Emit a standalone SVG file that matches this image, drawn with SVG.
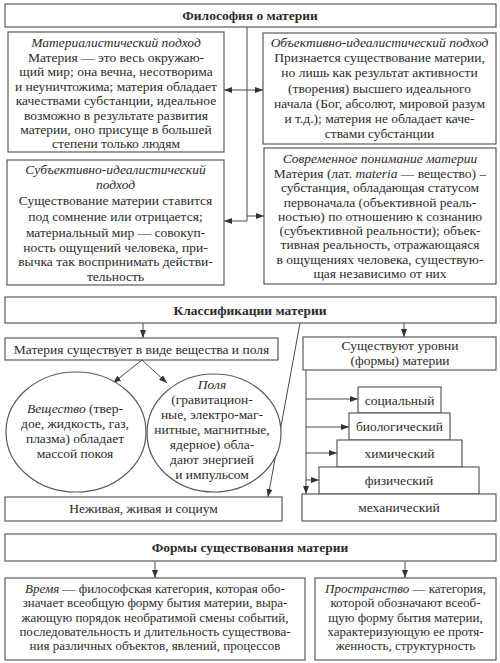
<svg xmlns="http://www.w3.org/2000/svg" width="500" height="663" viewBox="0 0 500 663">
<defs>
<style>
.bx{fill:#fff;stroke:#5a5a5a;stroke-width:1.2}
.ln{fill:none;stroke:#4a4a4a;stroke-width:1}
text{font-family:"Liberation Serif","Times New Roman",serif;font-size:13.5px;fill:#2b2b2b;text-anchor:middle}
.t{font-weight:bold;font-size:13.5px}
.i{font-style:italic}
.s{font-size:13px}
</style>
<marker id="ah" viewBox="0 0 8 6" refX="8" refY="3" markerWidth="8" markerHeight="6" markerUnits="userSpaceOnUse" orient="auto">
<path d="M0,0 L8,3 L0,6 Z" fill="#333"/>
</marker>
</defs>
<rect width="500" height="663" fill="#fff"/>

<g id="connectors">
<path class="ln" d="M247,27 V221"/>
<path class="ln" d="M247,90 H224" marker-end="url(#ah)"/>
<path class="ln" d="M247,90 H263" marker-end="url(#ah)"/>
<path class="ln" d="M247,221 H224" marker-end="url(#ah)"/>
<path class="ln" d="M247,216 H264" marker-end="url(#ah)"/>
<path class="ln" d="M143,323 V338" marker-end="url(#ah)"/>
<path class="ln" d="M404,323 V337" marker-end="url(#ah)"/>
<path class="ln" d="M142,360 L113,383" marker-end="url(#ah)"/>
<path class="ln" d="M142,360 L167,383" marker-end="url(#ah)"/>
<path class="ln" d="M300,323 L268,497" marker-end="url(#ah)"/>
<path class="ln" d="M306,370 V494" marker-end="url(#ah)"/>
<path class="ln" d="M306,399 H358" marker-end="url(#ah)"/>
<path class="ln" d="M306,427 H349" marker-end="url(#ah)"/>
<path class="ln" d="M306,453 H337" marker-end="url(#ah)"/>
<path class="ln" d="M306,480 H319" marker-end="url(#ah)"/>
<path class="ln" d="M155,561 V578" marker-end="url(#ah)"/>
<path class="ln" d="M405,561 V578" marker-end="url(#ah)"/>
</g>

<g id="title1">
<rect class="bx" x="5" y="4" width="491" height="23"/>
<text class="t" x="250" y="20">Философия о материи</text>
</g>

<g id="materialist">
<rect class="bx" x="8" y="32" width="216" height="120"/>
<text x="116" y="47" class="i">Материалистический подход</text>
<text x="116" y="62">Материя — это весь окружаю-</text>
<text x="116" y="76">щий мир; она вечна, несотворима</text>
<text x="116" y="91">и неуничтожима; материя обладает</text>
<text x="116" y="105">качествами субстанции, идеальное</text>
<text x="116" y="120">возможно в результате развития</text>
<text x="116" y="134">материи, оно присуще в большей</text>
<text x="116" y="148">степени только людям</text>
</g>

<g id="objective">
<rect class="bx" x="263" y="33" width="233" height="111"/>
<text x="379.5" y="47" class="i">Объективно-идеалистический подход</text>
<text x="379.5" y="62">Признается существование материи,</text>
<text x="379.5" y="77">но лишь как результат активности</text>
<text x="379.5" y="93">(творения) высшего идеального</text>
<text x="379.5" y="108">начала (Бог, абсолют, мировой разум</text>
<text x="379.5" y="123">и т.д.); материя не обладает каче-</text>
<text x="379.5" y="138">ствами субстанции</text>
</g>

<g id="subjective">
<rect class="bx" x="7" y="160" width="217" height="125"/>
<text x="115.5" y="174" class="i">Субъективно-идеалистический</text>
<text x="115.5" y="189" class="i">подход</text>
<text x="115.5" y="205">Существование материи ставится</text>
<text x="115.5" y="221">под сомнение или отрицается;</text>
<text x="115.5" y="237">материальный мир — совокуп-</text>
<text x="115.5" y="252">ность ощущений человека, при-</text>
<text x="115.5" y="266">вычка так воспринимать действи-</text>
<text x="115.5" y="281">тельность</text>
</g>

<g id="modern">
<rect class="bx" x="264" y="148" width="232" height="136"/>
<text x="380" y="163" class="i">Современное понимание материи</text>
<text x="380" y="178">Материя (лат. <tspan class="i">materia</tspan> — вещество) –</text>
<text x="380" y="192">субстанция, обладающая статусом</text>
<text x="380" y="207">первоначала (объективной реаль-</text>
<text x="380" y="221">ностью) по отношению к сознанию</text>
<text x="380" y="235">(субъективной реальности); объек-</text>
<text x="380" y="249">тивная реальность, отражающаяся</text>
<text x="380" y="264">в ощущениях человека, существую-</text>
<text x="380" y="278">щая независимо от них</text>
</g>

<g id="title2">
<rect class="bx" x="5" y="297" width="491" height="26"/>
<text class="t" x="250" y="315">Классификации материи</text>
</g>

<g id="exists">
<rect class="bx" x="5" y="338" width="273" height="22"/>
<text x="141.5" y="354">Материя существует в виде вещества и поля</text>
</g>

<g id="substance">
<ellipse class="bx" cx="76" cy="432" rx="70" ry="60"/>
<text x="75" y="413"><tspan class="i">Вещество</tspan> (твер-</text>
<text x="75" y="428">дое, жидкость, газ,</text>
<text x="75" y="443">плазма) обладает</text>
<text x="75" y="458">массой покоя</text>
</g>

<g id="fields">
<ellipse class="bx" cx="214" cy="433" rx="67" ry="59"/>
<text x="212" y="389" class="i">Поля</text>
<text x="212" y="404">(гравитацион-</text>
<text x="212" y="419">ные, электро-маг-</text>
<text x="212" y="434">нитные, магнитные,</text>
<text x="212" y="449">ядерное) обла-</text>
<text x="212" y="464">дают энергией</text>
<text x="212" y="479">и импульсом</text>
</g>

<g id="living">
<rect class="bx" x="5" y="497" width="277" height="24"/>
<text x="143.5" y="513">Неживая, живая и социум</text>
</g>

<g id="levels">
<rect class="bx" x="303" y="337" width="193" height="33"/>
<text x="400" y="350">Существуют уровни</text>
<text x="400" y="365">(формы) материи</text>
</g>

<g id="social">
<rect class="bx" x="358" y="387" width="83" height="26"/>
<text x="399.5" y="405">социальный</text>
</g>
<g id="biological">
<rect class="bx" x="349" y="413" width="101" height="27"/>
<text x="399.5" y="431">биологический</text>
</g>
<g id="chemical">
<rect class="bx" x="337" y="440" width="125" height="27"/>
<text x="399.5" y="458">химический</text>
</g>
<g id="physical">
<rect class="bx" x="319" y="467" width="160" height="27"/>
<text x="399" y="485">физический</text>
</g>
<g id="mechanical">
<rect class="bx" x="302" y="494" width="194" height="27"/>
<text x="399" y="512">механический</text>
</g>

<g id="title3">
<rect class="bx" x="5" y="534" width="491" height="27"/>
<text class="t" x="250" y="552">Формы существования материи</text>
</g>

<g id="time">
<rect class="bx" x="5" y="578" width="300" height="82"/>
<text class="s" x="155" y="593"><tspan class="i">Время</tspan> — философская категория, которая обо-</text>
<text class="s" x="155" y="607">значает всеобщую форму бытия материи, выра-</text>
<text class="s" x="155" y="622">жающую порядок необратимой смены событий,</text>
<text class="s" x="155" y="636">последовательность и длительность существова-</text>
<text class="s" x="155" y="650">ния различных объектов, явлений, процессов</text>
</g>

<g id="space">
<rect class="bx" x="315" y="578" width="181" height="82"/>
<text class="s" x="405.5" y="593"><tspan class="i">Пространство</tspan> — категория,</text>
<text class="s" x="405.5" y="607">которой обозначают всеоб-</text>
<text class="s" x="405.5" y="622">щую форму бытия материи,</text>
<text class="s" x="405.5" y="636">характеризующую ее протя-</text>
<text class="s" x="405.5" y="650">женность, структурность</text>
</g>
</svg>
